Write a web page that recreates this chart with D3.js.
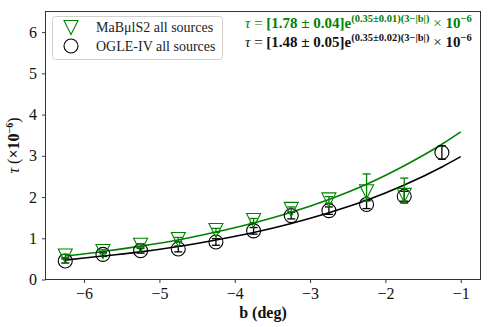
<!DOCTYPE html>
<html>
<head>
<meta charset="utf-8">
<script src="https://cdn.jsdelivr.net/npm/d3@7"></script>
<style>
  body { margin: 0; background: #fff; }
  svg text { font-family: "Liberation Serif", "DejaVu Serif", serif; }
</style>
</head>
<body>
<svg id="chart" width="491" height="327"></svg>
<script>
"use strict";

// latitude bins (deg)
var bins = [-6.25, -5.75, -5.25, -4.75, -4.25, -3.75, -3.25, -2.75, -2.25, -1.75, -1.25];

// OGLE-IV optical depth, x1e-6
var ogleTau = [0.45, 0.61, 0.70, 0.74, 0.91, 1.18, 1.55, 1.67, 1.82, 2.02, 3.08];
var ogleErr = [0.05, 0.05, 0.06, 0.07, 0.08, 0.08, 0.08, 0.09, 0.10, 0.12, 0.16];

// MaBulS2 optical depth (no value in last bin)
var mabTau = [0.57, 0.68, 0.83, 0.97, 1.19, 1.43, 1.70, 1.93, 2.13, 2.04];
var mabLo  = [0.04, 0.04, 0.04, 0.05, 0.05, 0.05, 0.06, 0.08, 0.23, 0.19];
var mabHi  = [0.04, 0.04, 0.04, 0.05, 0.05, 0.05, 0.06, 0.08, 0.43, 0.42];

// fitted exponential models, tabulated
var fitB     = [-6.25, -5.75, -5.25, -4.75, -4.25, -3.75, -3.25, -2.75, -2.25, -1.75, -1.25, -1.0];
var fitMab   = [0.57, 0.68, 0.81, 0.96, 1.15, 1.37, 1.63, 1.94, 2.31, 2.76, 3.28, 3.58];
var fitOgle  = [0.47, 0.57, 0.67, 0.80, 0.96, 1.14, 1.36, 1.62, 1.92, 2.29, 2.73, 2.98];

var xTicks = [-6, -5, -4, -3, -2, -1];
var yTicks = [0, 1, 2, 3, 4, 5, 6];

var GREEN = "#008000";
var SERIF = "'Liberation Serif', 'DejaVu Serif', serif";

var svg = d3.select("#chart");
var mLeft = 45.5, mRight = 480.5, mTop = 11.5, mBottom = 279.5;

var x = d3.scaleLinear().domain([-6.5125, -0.7375]).range([mLeft, mRight]);
var y = d3.scaleLinear().domain([0, 6.5]).range([mBottom, mTop]);

// axes
var xAxis = d3.axisBottom(x).tickValues(xTicks).tickSize(3.5).tickPadding(5)
  .tickFormat(d => d < 0 ? "\u2212" + Math.abs(d) : d);
var yAxis = d3.axisLeft(y).tickValues(yTicks).tickSize(3.5).tickPadding(5)
  .tickFormat(d3.format("d"));

var gx = svg.append("g").attr("transform", "translate(0," + mBottom + ")").call(xAxis);
var gy = svg.append("g").attr("transform", "translate(" + mLeft + ",0)").call(yAxis);
[gx, gy].forEach(g => {
  g.attr("font-family", SERIF).attr("font-size", 16);
  g.select(".domain").remove();
  g.selectAll(".tick line").attr("stroke", "#222").attr("stroke-width", 0.9);
  g.selectAll(".tick text").attr("fill", "#111");
});

// fit curves
var line = d3.line().x(d => x(d[0])).y(d => y(d[1])).curve(d3.curveMonotoneX);
svg.append("path").datum(d3.zip(fitB, fitOgle)).attr("d", line)
   .attr("fill", "none").attr("stroke", "#000").attr("stroke-width", 1.6);
svg.append("path").datum(d3.zip(fitB, fitMab)).attr("d", line)
   .attr("fill", "none").attr("stroke", GREEN).attr("stroke-width", 1.6);

// OGLE points
var og = svg.append("g").attr("stroke", "#000").attr("fill", "none");
bins.forEach((b, i) => {
  var cx = x(b), lo = y(ogleTau[i] - ogleErr[i]), hi = y(ogleTau[i] + ogleErr[i]);
  og.append("line").attr("x1", cx).attr("x2", cx).attr("y1", lo).attr("y2", hi).attr("stroke-width", 1.3);
  og.append("line").attr("x1", cx - 4).attr("x2", cx + 4).attr("y1", lo).attr("y2", lo).attr("stroke-width", 1.3);
  og.append("line").attr("x1", cx - 4).attr("x2", cx + 4).attr("y1", hi).attr("y2", hi).attr("stroke-width", 1.3);
  og.append("circle").attr("cx", cx).attr("cy", y(ogleTau[i])).attr("r", 7).attr("stroke-width", 1.1);
});

// MaBulS2 points
function triDown(cx, cy, s) {
  var h = s / 2;
  return "M" + (cx - h) + "," + (cy - h) + "L" + (cx + h) + "," + (cy - h) + "L" + cx + "," + (cy + h) + "Z";
}
var mg = svg.append("g").attr("stroke", GREEN).attr("fill", "none");
mabTau.forEach((t, i) => {
  var cx = x(bins[i]), lo = y(t - mabLo[i]), hi = y(t + mabHi[i]);
  mg.append("line").attr("x1", cx).attr("x2", cx).attr("y1", lo).attr("y2", hi).attr("stroke-width", 1.3);
  mg.append("line").attr("x1", cx - 4).attr("x2", cx + 4).attr("y1", lo).attr("y2", lo).attr("stroke-width", 1.3);
  mg.append("line").attr("x1", cx - 4).attr("x2", cx + 4).attr("y1", hi).attr("y2", hi).attr("stroke-width", 1.3);
  mg.append("path").attr("d", triDown(cx, y(t), 14)).attr("stroke-width", 1.1);
});

// frame
svg.append("rect").attr("x", mLeft).attr("y", mTop).attr("width", mRight - mLeft).attr("height", mBottom - mTop)
   .attr("fill", "none").attr("stroke", "#333").attr("stroke-width", 1);

// legend
var lg = svg.append("g");
lg.append("rect").attr("x", 52.5).attr("y", 16.5).attr("width", 170).attr("height", 43).attr("rx", 3)
  .attr("fill", "#fff").attr("fill-opacity", 0.8).attr("stroke", "#d0d0d0");
lg.append("path").attr("d", triDown(71, 27.5, 14)).attr("fill", "none").attr("stroke", GREEN).attr("stroke-width", 1.1);
lg.append("circle").attr("cx", 71).attr("cy", 46).attr("r", 7).attr("fill", "none").attr("stroke", "#000").attr("stroke-width", 1.1);
lg.append("text").attr("x", 96).attr("y", 32).style("font-size", "14px").attr("fill", "#222")
  .text("MaB\u03BClS2 all sources");
lg.append("text").attr("x", 96).attr("y", 51).style("font-size", "14px").attr("fill", "#222")
  .text("OGLE-IV all sources");

// fit formulas
function formula(yy, color, amp, rate) {
  var t = svg.append("text").attr("x", 245).attr("y", yy).attr("fill", color).style("font-size", "15px");
  t.append("tspan").style("font-style", "italic").text("\u03C4");
  t.append("tspan").text(" = ");
  t.append("tspan").style("font-weight", "bold").text("[" + amp + "]e");
  t.append("tspan").attr("dy", -6).style("font-size", "10.5px").style("font-weight", "bold").text("(" + rate + ")(3\u2212|b|)");
  t.append("tspan").attr("dy", 6).text(" \u00D7 ");
  t.append("tspan").style("font-weight", "bold").text("10");
  t.append("tspan").attr("dy", -6).style("font-size", "10.5px").style("font-weight", "bold").text("\u22126");
}
formula(28, GREEN, "1.78 \u00B1 0.04", "0.35\u00B10.01");
formula(47, "#111", "1.48 \u00B1 0.05", "0.35\u00B10.02");

// axis labels
svg.append("text").attr("x", (mLeft + mRight) / 2).attr("y", 318).attr("text-anchor", "middle")
   .style("font-size", "16px").style("font-weight", "bold").attr("fill", "#111").text("b (deg)");
var yl = svg.append("text").attr("transform", "translate(19," + ((mTop + mBottom) / 2) + ") rotate(-90)")
   .attr("text-anchor", "middle").style("font-size", "16px").attr("fill", "#111");
yl.append("tspan").style("font-style", "italic").text("\u03C4");
yl.append("tspan").text(" (");
yl.append("tspan").style("font-weight", "bold").text("\u00D710");
yl.append("tspan").attr("dy", -6).style("font-size", "10px").style("font-weight", "bold").text("\u22126");
yl.append("tspan").attr("dy", 6).text(")");
</script>
</body>
</html>
